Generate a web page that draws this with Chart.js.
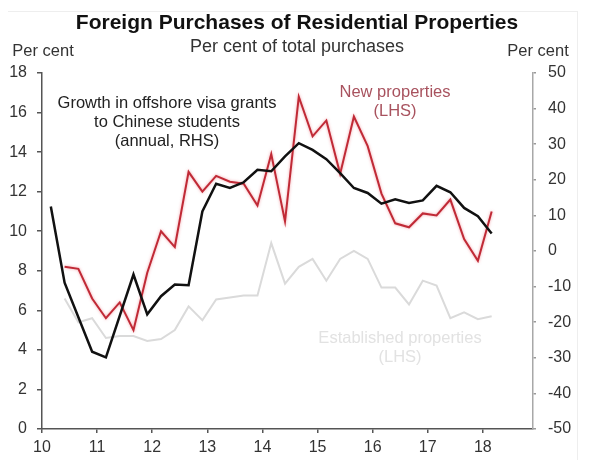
<!DOCTYPE html>
<html>
<head>
<meta charset="utf-8">
<script src="https://cdn.jsdelivr.net/npm/chart.js@4.4.1/dist/chart.umd.min.js"></script>
<style>
  html, body { margin: 0; padding: 0; background: #ffffff; }
  #wrap { width: 600px; height: 465px; }
</style>
</head>
<body>
<div id="wrap"><canvas id="c" width="600" height="465"></canvas></div>
<script>
// ---- Data ----
const quarters = [10.16, 10.41, 10.66, 10.91, 11.16, 11.41, 11.66, 11.91, 12.16, 12.41, 12.66, 12.91,
  13.16, 13.41, 13.66, 13.91, 14.16, 14.41, 14.66, 14.91, 15.16, 15.41, 15.66, 15.91,
  16.16, 16.41, 16.66, 16.91, 17.16, 17.41, 17.66, 17.91, 18.16];

// Growth in offshore visa grants to Chinese students (annual, RHS, per cent)
const visaGrowth = [12.5, -8.9, null, -28.3, -29.9, null, -6.6, -17.8, -12.7, -9.4, -9.6, 11.1,
  18.9, 17.7, 19.3, 22.8, 22.4, 26.6, 30.3, 28.4, 25.8, 21.9, 17.7, 16.3,
  13.3, 14.5, 13.5, 14.2, 18.3, 16.5, 12.1, 9.8, 4.9];

// New properties (LHS, per cent of total purchases)
const newProperties = [null, 8.2, 8.1, 6.6, 5.6, 6.4, 5.0, 7.9, 10.0, 9.2, 13.0, 12.0,
  12.8, 12.5, 12.4, 11.3, 13.9, 10.5, 16.8, 14.8, 15.6, 12.9, 15.8, 14.3,
  11.9, 10.4, 10.2, 10.9, 10.8, 11.6, 9.6, 8.5, 11.0];

// Established properties (LHS, per cent of total purchases)
const establishedProperties = [null, 6.6, 5.4, 5.6, 4.6, 4.7, 4.7, 4.45, 4.55, 5.0, 6.2, 5.5,
  6.55, 6.65, 6.75, 6.75, 9.4, 7.35, 8.2, 8.6, 7.5, 8.6, 9.0, 8.6,
  7.15, 7.15, 6.3, 7.5, 7.25, 5.6, 5.9, 5.55, 5.7];

const yearTicks = [10, 11, 12, 13, 14, 15, 16, 17, 18];
const lhsTicks = [0, 2, 4, 6, 8, 10, 12, 14, 16, 18];
const rhsTicks = [-50, -40, -30, -20, -10, 0, 10, 20, 30, 40, 50];

const title = 'Foreign Purchases of Residential Properties';
const subtitle = 'Per cent of total purchases';
const unitLabel = 'Per cent';
const visaLabel = ['Growth in offshore visa grants', 'to Chinese students', '(annual, RHS)'];
const newLabel = ['New properties', '(LHS)'];
const estLabel = ['Established properties', '(LHS)'];

// ---- Build chart ----
const toPts = (arr) => quarters.map((q, i) => ({ x: q, y: arr[i] }));

const FONT = "'Liberation Sans', Arial, sans-serif";

const textPlugin = {
  id: 'texts',
  beforeDatasetDraw(chart, args) {
    if (args.meta.label === 'New properties') {
      const ctx = chart.ctx;
      ctx.save();
      ctx.shadowColor = 'rgba(235,120,130,0.7)';
      ctx.shadowBlur = 3;
    }
  },
  afterDatasetDraw(chart, args) {
    if (args.meta.label === 'New properties') chart.ctx.restore();
  },
  afterDraw(chart) {
    const ctx = chart.ctx;
    ctx.save();
    // faint frame lines
    ctx.strokeStyle = '#eeeeee';
    ctx.lineWidth = 1;
    ctx.beginPath();
    ctx.moveTo(8, 11.5); ctx.lineTo(578, 11.5);
    ctx.moveTo(577.5, 11); ctx.lineTo(577.5, 460);
    ctx.stroke();

    ctx.textAlign = 'center';
    ctx.textBaseline = 'middle';
    ctx.fillStyle = '#111111';
    ctx.font = "bold 21px " + FONT;
    ctx.fillText(title, 297, 23);
    ctx.fillStyle = '#333333';
    ctx.font = "18px " + FONT;
    ctx.fillText(subtitle, 297, 47);
    ctx.font = "16.5px " + FONT;
    ctx.fillText(unitLabel, 43, 51);
    ctx.fillText(unitLabel, 538, 51);

    ctx.font = "16.5px " + FONT;
    ctx.fillStyle = '#222222';
    visaLabel.forEach((t, i) => ctx.fillText(t, 167, 103 + i * 19));
    ctx.fillStyle = '#a8525e';
    newLabel.forEach((t, i) => ctx.fillText(t, 395, 92 + i * 19));
    ctx.fillStyle = '#e2e2e2';
    estLabel.forEach((t, i) => ctx.fillText(t, 400, 338 + i * 19));
    ctx.restore();
  }
};

new Chart(document.getElementById('c'), {
  type: 'line',
  data: {
    datasets: [
      {
        label: 'Established properties',
        data: toPts(establishedProperties),
        yAxisID: 'y',
        borderColor: '#dadada',
        borderWidth: 2,
        pointRadius: 0,
        tension: 0,
        spanGaps: true,
        order: 3
      },
      {
        label: 'New properties',
        data: toPts(newProperties),
        yAxisID: 'y',
        borderColor: '#c02a36',
        borderWidth: 2,
        pointRadius: 0,
        tension: 0,
        spanGaps: true,
        order: 2
      },
      {
        label: 'Visa growth',
        data: toPts(visaGrowth),
        yAxisID: 'y1',
        borderColor: '#111111',
        borderWidth: 2.5,
        pointRadius: 0,
        tension: 0,
        spanGaps: true,
        order: 1
      }
    ]
  },
  options: {
    responsive: false,
    animation: false,
    layout: { padding: { top: 73, left: 0, right: 0, bottom: 0 } },
    plugins: { legend: { display: false }, tooltip: { enabled: false }, title: { display: false } },
    scales: {
      x: {
        type: 'linear',
        position: 'bottom',
        min: 10,
        max: 18.91,
        afterBuildTicks: (s) => { s.ticks = yearTicks.map(v => ({ value: v })); },
        afterFit: (s) => { s.height = 36; },
        ticks: { font: { family: FONT, size: 16 }, color: '#333', padding: 5, maxRotation: 0, autoSkip: false },
        grid: { drawOnChartArea: false, drawTicks: true, tickLength: 4, color: '#555', lineWidth: 1.5 },
        border: { display: true, color: '#555', width: 1.5 }
      },
      y: {
        position: 'left',
        min: 0,
        max: 18,
        afterBuildTicks: (s) => { s.ticks = lhsTicks.map(v => ({ value: v })); },
        afterFit: (s) => { s.width = 42; },
        ticks: { font: { family: FONT, size: 16 }, color: '#333', padding: 10 },
        grid: { drawOnChartArea: false, drawTicks: true, tickLength: 5, color: '#555', lineWidth: 1.5 },
        border: { display: true, color: '#555', width: 1.5 }
      },
      y1: {
        position: 'right',
        min: -50,
        max: 50,
        afterBuildTicks: (s) => { s.ticks = rhsTicks.map(v => ({ value: v })); },
        afterFit: (s) => { s.width = 67; },
        ticks: { font: { family: FONT, size: 16 }, color: '#333', padding: 12 },
        grid: { drawOnChartArea: false, drawTicks: true, tickLength: 3, color: '#999', lineWidth: 1.5 },
        border: { display: true, color: '#a8a8a8', width: 1.5 }
      }
    }
  },
  plugins: [textPlugin]
});
</script>
</body>
</html>
